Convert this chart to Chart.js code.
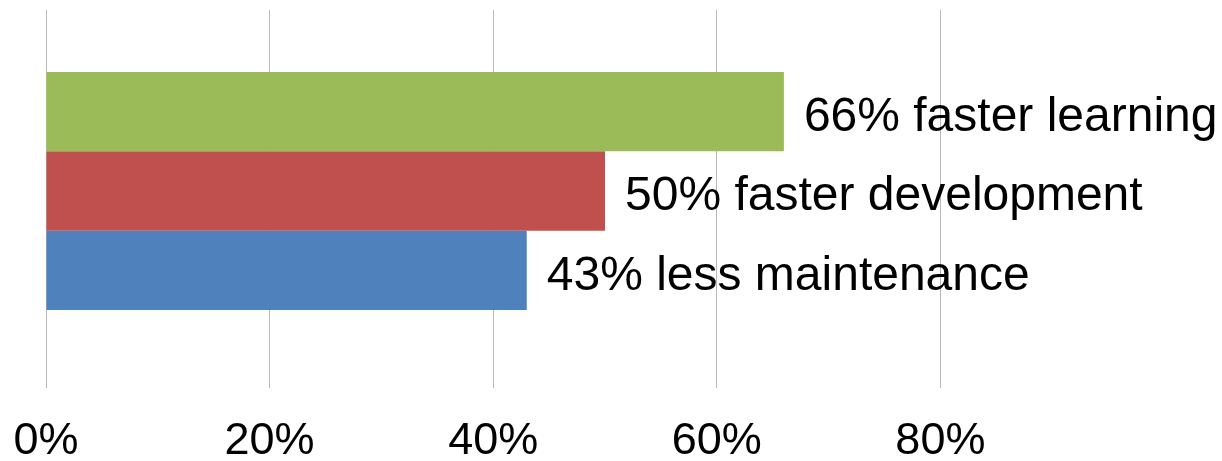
<!DOCTYPE html>
<html>
<head>
<meta charset="utf-8">
<script src="https://cdn.jsdelivr.net/npm/chart.js@4"></script>
<style>
  html, body { margin: 0; padding: 0; background: #ffffff; }
  #wrap { width: 1222px; height: 461px; position: relative; }
</style>
</head>
<body>
<div id="wrap"><canvas id="chart"></canvas></div>
<script>
const categories = [''];
const seriesNames = ['faster learning', 'faster development', 'less maintenance'];
const seriesValues = [66, 50, 43];
const tickValues = [0, 20, 40, 60, 80];

const barColors = ['#9bbb59', '#c0504d', '#4f81bd'];
const gridColor = '#b8b8b8';

const datasets = seriesNames.map((name, i) => ({
  label: name,
  data: [seriesValues[i]],
  backgroundColor: barColors[i],
  borderWidth: 0,
  barPercentage: 1,
  categoryPercentage: 0.657
}));

// value + name written just past the end of each bar
const barLabels = {
  id: 'barLabels',
  afterDatasetsDraw(chart) {
    const ctx = chart.ctx;
    ctx.save();
    ctx.font = '48px "Liberation Sans", Arial, sans-serif';
    ctx.fillStyle = '#000000';
    ctx.textAlign = 'left';
    ctx.textBaseline = 'middle';
    chart.data.datasets.forEach((ds, i) => {
      const bar = chart.getDatasetMeta(i).data[0];
      ctx.fillText(`${seriesValues[i]}% ${seriesNames[i]}`, bar.x + 20, bar.y + 6);
    });
    ctx.restore();
  }
};

new Chart(document.getElementById('chart'), {
  type: 'bar',
  data: { labels: categories, datasets },
  plugins: [barLabels],
  options: {
    indexAxis: 'y',
    responsive: true,
    maintainAspectRatio: false,
    animation: false,
    layout: { padding: { left: 46, right: 58, top: 10, bottom: -34 } },
    plugins: {
      legend: { display: false },
      tooltip: { enabled: false }
    },
    scales: {
      y: { display: false },
      x: {
        min: 0,
        max: 100,
        afterBuildTicks: (axis) => {
          axis.ticks = tickValues.map((v) => ({ value: v }));
        },
        afterFit: (axis) => {
          // let the first tick label hang over the left edge
          axis.paddingLeft = 0;
          axis.paddingRight = 0;
        },
        border: { display: false },
        grid: { color: gridColor, lineWidth: 1, tickLength: 16 },
        ticks: {
          color: '#000000',
          padding: 31,
          maxRotation: 0,
          font: { family: '"Liberation Sans", Arial, sans-serif', size: 45, lineHeight: 1 },
          callback: (value) => value + '%'
        }
      }
    }
  }
});
</script>
</body>
</html>
